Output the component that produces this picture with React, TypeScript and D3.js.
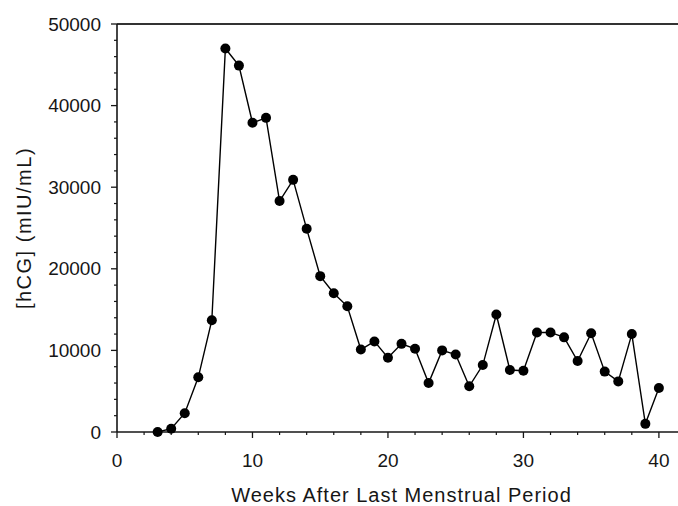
import React from 'react';
import * as d3 from 'd3';

// weeks after LMP and hCG level (mIU/mL)
const weeks = [
  3, 4, 5, 6, 7, 8, 9, 10, 11, 12, 13, 14, 15, 16, 17, 18, 19, 20, 21, 22,
  23, 24, 25, 26, 27, 28, 29, 30, 31, 32, 33, 34, 35, 36, 37, 38, 39, 40,
];
const hcg = [
  0, 400, 2300, 6700, 13700, 47000, 44900, 37900, 38500, 28300, 30900, 24900,
  19100, 17000, 15400, 10100, 11100, 9100, 10800, 10200, 6000, 10000, 9500,
  5600, 8200, 14400, 7600, 7500, 12200, 12200, 11600, 8700, 12100, 7400, 6200,
  12000, 1000, 5400,
];
const xMajor = [0, 10, 20, 30, 40];
const yMajor = [0, 10000, 20000, 30000, 40000, 50000];

const W = 678;
const H = 506;
const margin = { top: 24, right: -8, bottom: 74, left: 117 };
const font = '"Liberation Sans", Arial, sans-serif';
const ink = '#161616';

export default function App() {
  const x = d3.scaleLinear().domain([0, 42]).range([margin.left, W - margin.right]);
  const y = d3.scaleLinear().domain([0, 50000]).range([H - margin.bottom, margin.top]);

  const xMinor = d3.range(0, 43, 2).filter((v) => !xMajor.includes(v));
  const yMinor = d3.range(0, 50001, 2000).filter((v) => !yMajor.includes(v));

  const pts = weeks.map((w, i) => [w, hcg[i]] as [number, number]);
  const line = d3.line<[number, number]>().x((d) => x(d[0])).y((d) => y(d[1]));

  const x0 = x(0);
  const y0 = y(0);

  return (
    <div style={{ position: 'absolute', left: 0, top: 0 }}>
      <svg width={W} height={H} style={{ display: 'block', background: '#fff' }}>
        {/* minor ticks */}
        {xMinor.map((v) => (
          <line key={'xm' + v} x1={x(v)} x2={x(v)} y1={y0} y2={y0 + 3} stroke={ink} strokeWidth={1.2} />
        ))}
        {yMinor.map((v) => (
          <line key={'ym' + v} x1={x0 - 3} x2={x0} y1={y(v)} y2={y(v)} stroke={ink} strokeWidth={1.2} />
        ))}
        {/* major ticks + labels */}
        {xMajor.map((v) => (
          <g key={'x' + v}>
            <line x1={x(v)} x2={x(v)} y1={y0} y2={y0 + 6} stroke={ink} strokeWidth={1.3} />
            <text x={x(v)} y={467} textAnchor="middle" fontFamily={font} fontSize={19} fill={ink}>
              {v}
            </text>
          </g>
        ))}
        {yMajor.map((v) => (
          <g key={'y' + v}>
            <line x1={x0 - 6} x2={x0} y1={y(v)} y2={y(v)} stroke={ink} strokeWidth={1.3} />
            <text x={101} y={y(v)} dy="0.35em" textAnchor="end" fontFamily={font} fontSize={19} fill={ink}>
              {v}
            </text>
          </g>
        ))}
        {/* frame */}
        <line x1={x0} x2={W} y1={y(50000)} y2={y(50000)} stroke="#333" strokeWidth={2} />
        <line x1={x0} x2={W} y1={y0} y2={y0} stroke={ink} strokeWidth={1.6} />
        <line x1={x0} x2={x0} y1={y(50000)} y2={y0} stroke={ink} strokeWidth={1.6} />

        {/* series */}
        <path d={line(pts) || ''} fill="none" stroke="#000" strokeWidth={1.4} />
        {pts.map((d, i) => (
          <circle key={i} cx={x(d[0])} cy={y(d[1])} r={5} fill="#000" />
        ))}

        {/* axis titles */}
        <text
          x={(x0 + x(42)) / 2}
          y={502}
          textAnchor="middle"
          fontFamily={font}
          fontSize={20}
          letterSpacing={1}
          fill={ink}
        >
          Weeks After Last Menstrual Period
        </text>
        <text
          transform={`translate(31,${(y(0) + y(50000)) / 2}) rotate(-90)`}
          textAnchor="middle"
          fontFamily={font}
          fontSize={20}
          letterSpacing={1.5}
          fill={ink}
        >
          [hCG] (mIU/mL)
        </text>
      </svg>
    </div>
  );
}
